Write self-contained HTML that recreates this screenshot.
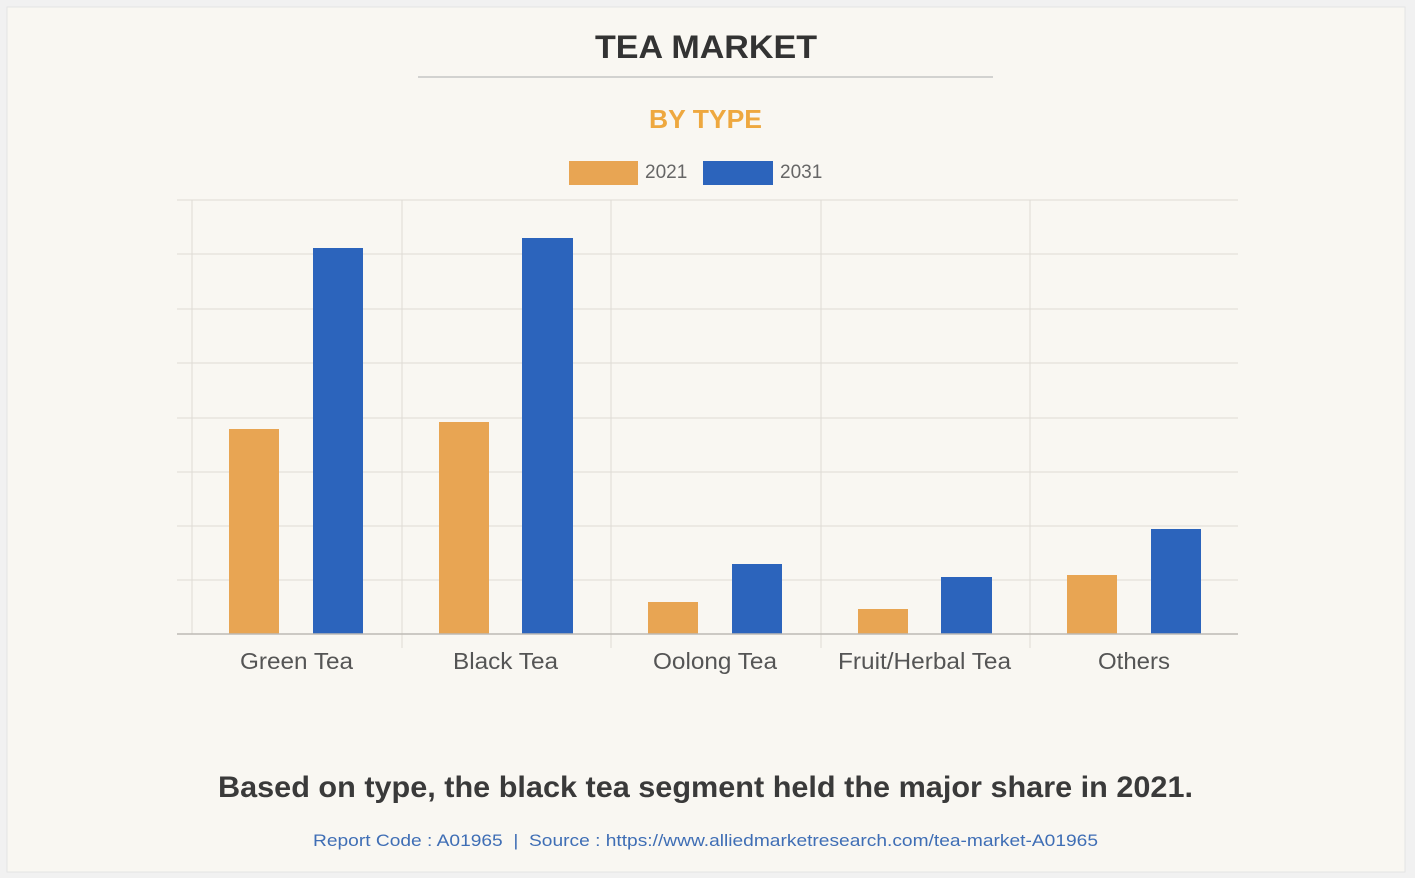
<!DOCTYPE html>
<html><head><meta charset="utf-8"><style>
html,body{margin:0;padding:0;background:#fff;}
body{width:1415px;height:878px;overflow:hidden;font-family:"Liberation Sans",Arial,sans-serif;}
</style></head><body>
<svg width="1415" height="878" xmlns="http://www.w3.org/2000/svg" font-family="Liberation Sans, Arial, sans-serif">
<rect x="0" y="0" width="1415" height="878" fill="#f1f1f1"/>
<rect x="7" y="7" width="1398" height="865" fill="#f9f7f2" stroke="#e4e4e4"/>
<text x="595" y="58" textLength="222" lengthAdjust="spacingAndGlyphs" font-size="32" font-weight="bold" fill="#333">TEA MARKET</text>
<line x1="418" y1="77" x2="993" y2="77" stroke="#bbb" stroke-width="1.2"/>
<text x="649" y="128" textLength="113" lengthAdjust="spacingAndGlyphs" font-size="26" font-weight="bold" fill="#eea83f">BY TYPE</text>
<rect x="569" y="161" width="69" height="24" fill="#e8a553"/>
<text x="645" y="178" font-size="19" fill="#666">2021</text>
<rect x="703" y="161" width="70" height="24" fill="#2c64bc"/>
<text x="780" y="178" font-size="19" fill="#666">2031</text>
<g stroke="#dedbd4" stroke-width="1">
<line x1="177" y1="200" x2="1238" y2="200"/>
<line x1="177" y1="254" x2="1238" y2="254"/>
<line x1="177" y1="309" x2="1238" y2="309"/>
<line x1="177" y1="363" x2="1238" y2="363"/>
<line x1="177" y1="418" x2="1238" y2="418"/>
<line x1="177" y1="472" x2="1238" y2="472"/>
<line x1="177" y1="526" x2="1238" y2="526"/>
<line x1="177" y1="580" x2="1238" y2="580"/>
<line x1="192" y1="200" x2="192" y2="634"/>
<line x1="402" y1="200" x2="402" y2="648"/>
<line x1="611" y1="200" x2="611" y2="648"/>
<line x1="821" y1="200" x2="821" y2="648"/>
<line x1="1030" y1="200" x2="1030" y2="648"/>
</g>
<g fill="#e8a553">
<rect x="229" y="429" width="50" height="205"/>
<rect x="439" y="422" width="50" height="212"/>
<rect x="648" y="602" width="50" height="32"/>
<rect x="858" y="609" width="50" height="25"/>
<rect x="1067" y="575" width="50" height="59"/>
</g>
<g fill="#2c64bc">
<rect x="313" y="248" width="50" height="386"/>
<rect x="522" y="238" width="51" height="396"/>
<rect x="732" y="564" width="50" height="70"/>
<rect x="941" y="577" width="51" height="57"/>
<rect x="1151" y="529" width="50" height="105"/>
</g>
<line x1="177" y1="634" x2="1238" y2="634" stroke="#bdbab4" stroke-width="1.5"/>
<g font-size="23" fill="#555" lengthAdjust="spacingAndGlyphs">
<text x="240" y="669" textLength="113" lengthAdjust="spacingAndGlyphs">Green Tea</text>
<text x="453" y="669" textLength="105" lengthAdjust="spacingAndGlyphs">Black Tea</text>
<text x="653" y="669" textLength="124" lengthAdjust="spacingAndGlyphs">Oolong Tea</text>
<text x="838" y="669" textLength="173" lengthAdjust="spacingAndGlyphs">Fruit/Herbal Tea</text>
<text x="1098" y="669" textLength="72" lengthAdjust="spacingAndGlyphs">Others</text>
</g>
<text x="218" y="797" textLength="975" lengthAdjust="spacingAndGlyphs" font-size="30" font-weight="bold" fill="#3a3a3a">Based on type, the black tea segment held the major share in 2021.</text>
<text x="313" y="846" textLength="785" lengthAdjust="spacingAndGlyphs" font-size="17" fill="#3f6eb5" xml:space="preserve">Report Code : A01965  |  Source : https://www.alliedmarketresearch.com/tea-market-A01965</text>
</svg>
</body></html>
